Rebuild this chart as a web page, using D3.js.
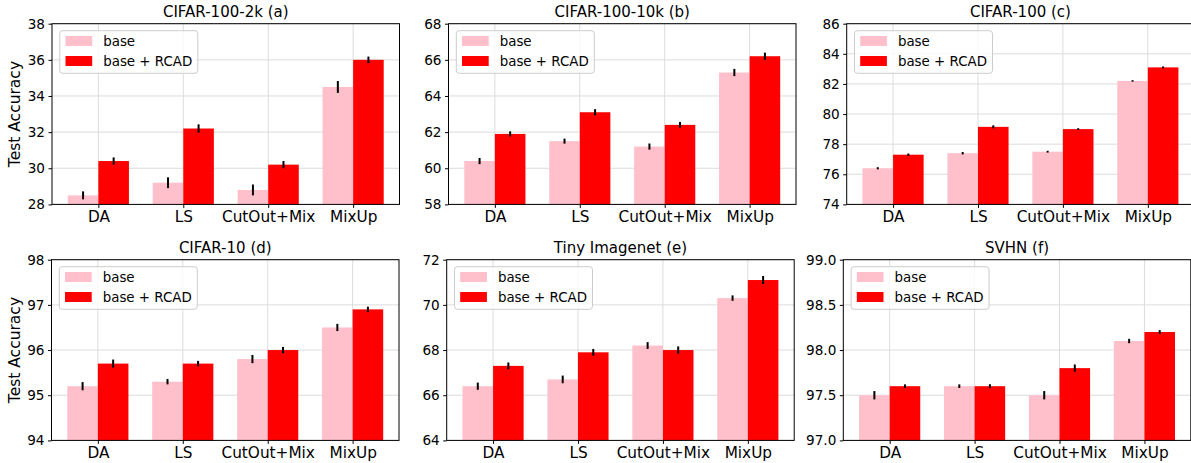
<!DOCTYPE html>
<html>
<head>
<meta charset="utf-8">
<script src="https://cdn.jsdelivr.net/npm/d3@7"></script>
<style>
  body { margin: 0; background: #fff; }
  svg { display: block; font-family: "DejaVu Sans", sans-serif; }
</style>
</head>
<body>
<div id="chart"></div>
<script>
// Test accuracy, base vs base + RCAD, six datasets
const methods = ["DA", "LS", "CutOut+Mix", "MixUp"];
const titles = ["CIFAR-100-2k (a)", "CIFAR-100-10k (b)", "CIFAR-100 (c)",
                "CIFAR-10 (d)", "Tiny Imagenet (e)", "SVHN (f)"];
const seriesNames = ["base", "base + RCAD"];

const baseMeans = [
    [28.5, 29.2, 28.8, 34.5],
    [60.4, 61.5, 61.2, 65.3],
    [76.4, 77.4, 77.5, 82.2],
    [95.2, 95.3, 95.8, 96.5],
    [66.4, 66.7, 68.2, 70.3],
    [97.5, 97.6, 97.5, 98.1]
];
const rcadMeans = [
    [30.4, 32.2, 30.2, 36.0],
    [61.9, 63.1, 62.4, 66.2],
    [77.3, 79.15, 79.0, 83.1],
    [95.7, 95.7, 96.0, 96.9],
    [67.3, 67.9, 68.0, 71.1],
    [97.6, 97.6, 97.8, 98.2]
];
const baseErr = [
    [0.22, 0.3, 0.3, 0.33],
    [0.17, 0.14, 0.17, 0.2],
    [0.07, 0.08, 0.06, 0.05],
    [0.09, 0.06, 0.09, 0.08],
    [0.16, 0.17, 0.15, 0.12],
    [0.046, 0.02, 0.046, 0.024]
];
const rcadErr = [
    [0.2, 0.23, 0.2, 0.18],
    [0.14, 0.17, 0.16, 0.2],
    [0.08, 0.1, 0.06, 0.06],
    [0.09, 0.06, 0.07, 0.06],
    [0.15, 0.15, 0.16, 0.18],
    [0.02, 0.022, 0.04, 0.02]
];
const yDomains = [[28, 38], [58, 68], [74, 86], [94, 98], [64, 72], [97, 99]];
const yTicks = [
    [28, 30, 32, 34, 36, 38],
    [58, 60, 62, 64, 66, 68],
    [74, 76, 78, 80, 82, 84, 86],
    [94, 95, 96, 97, 98],
    [64, 66, 68, 70, 72],
    [97.0, 97.5, 98.0, 98.5, 99.0]
];
const yFormats = ["d", "d", "d", "d", "d", ".1f"];

const colors = ["#ffc0cb", "#ff0000"];
const barWidth = 0.36;

// panel boxes (pixels)
const panelLeft = [52, 448.5, 846.7, 51.5, 446.7, 843.3];
const panelTop = [23.7, 23.7, 23.7, 259.7, 259.7, 259.7];
const panelW = 347.5;
const panelH = 180.7;

const svg = d3.select("#chart")
    .append("svg")
    .attr("width", 1191)
    .attr("height", 463);

titles.forEach((title, p) => {
    const g = svg.append("g")
        .attr("transform", `translate(${panelLeft[p]},${panelTop[p]})`);

    const pad = 0.186;
    const x = d3.scaleLinear()
        .domain([-barWidth - pad, methods.length - 1 + barWidth + pad])
        .range([0, panelW]);
    const y = d3.scaleLinear()
        .domain(yDomains[p])
        .range([panelH, 0]);

    // grid
    g.append("g")
        .selectAll("line")
        .data(yTicks[p])
        .enter()
        .append("line")
        .attr("x1", 0).attr("x2", panelW)
        .attr("y1", d => y(d)).attr("y2", d => y(d))
        .attr("stroke", "#dcdcdc").attr("stroke-width", 1);
    g.append("g")
        .selectAll("line")
        .data(methods)
        .enter()
        .append("line")
        .attr("x1", (d, i) => x(i)).attr("x2", (d, i) => x(i))
        .attr("y1", 0).attr("y2", panelH)
        .attr("stroke", "#dcdcdc").attr("stroke-width", 1);

    const series = [baseMeans[p], rcadMeans[p]];
    const errs = [baseErr[p], rcadErr[p]];

    series.forEach((vals, s) => {
        const off = s === 0 ? -barWidth : 0;
        g.append("g")
            .selectAll("rect")
            .data(vals)
            .enter()
            .append("rect")
            .attr("x", (d, i) => x(i + off))
            .attr("y", d => y(d))
            .attr("width", x(barWidth) - x(0))
            .attr("height", d => panelH - y(d))
            .attr("fill", colors[s]);
    });

    series.forEach((vals, s) => {
        const off = s === 0 ? -barWidth / 2 : barWidth / 2;
        g.append("g")
            .selectAll("line")
            .data(vals)
            .enter()
            .append("line")
            .attr("x1", (d, i) => x(i + off))
            .attr("x2", (d, i) => x(i + off))
            .attr("y1", (d, i) => y(d - errs[s][i]))
            .attr("y2", (d, i) => y(d + errs[s][i]))
            .attr("stroke", "#000")
            .attr("stroke-width", 2);
    });

    // axes
    const xAxis = g.append("g")
        .attr("transform", `translate(0,${panelH})`)
        .call(d3.axisBottom(x).tickValues(d3.range(methods.length))
            .tickFormat(i => methods[i]).tickSizeOuter(0).tickSize(3.5).tickPadding(3.5));
    xAxis.select(".domain").remove();
    xAxis.selectAll("text").attr("font-size", "15.3px").attr("fill", "#000")
        .attr("font-family", "DejaVu Sans");

    const yAxis = g.append("g")
        .call(d3.axisLeft(y).tickValues(yTicks[p]).tickFormat(d3.format(yFormats[p]))
            .tickSizeOuter(0).tickSize(3.5).tickPadding(3.5));
    yAxis.select(".domain").remove();
    yAxis.selectAll("text").attr("font-size", "13.6px").attr("fill", "#000")
        .attr("font-family", "DejaVu Sans");

    g.append("rect")
        .attr("x", 0).attr("y", 0)
        .attr("width", panelW).attr("height", panelH)
        .attr("fill", "none")
        .attr("stroke", "#000")
        .attr("stroke-width", 1);

    g.append("text")
        .attr("x", panelW / 2)
        .attr("y", -6.5)
        .attr("text-anchor", "middle")
        .attr("font-size", "15px")
        .text(title);

    if (p % 3 === 0) {
        g.append("text")
            .attr("transform", `translate(${-32},${panelH / 2}) rotate(-90)`)
            .attr("text-anchor", "middle")
            .attr("font-size", "15.5px")
            .text("Test Accuracy");
    }

    // legend
    const leg = g.append("g").attr("transform", "translate(7.8,7)");
    leg.append("rect")
        .attr("width", 138).attr("height", 42.6)
        .attr("rx", 3)
        .attr("fill", "#fff").attr("fill-opacity", 0.8)
        .attr("stroke", "#cccccc").attr("stroke-width", 1);
    seriesNames.forEach((name, s) => {
        leg.append("rect")
            .attr("x", 5.7).attr("y", 5.3 + s * 20)
            .attr("width", 26.7).attr("height", 10)
            .attr("fill", colors[s]);
        leg.append("text")
            .attr("x", 43.4).attr("y", 15 + s * 20)
            .attr("font-size", "13.4px")
            .text(name);
    });
});
</script>
</body>
</html>
